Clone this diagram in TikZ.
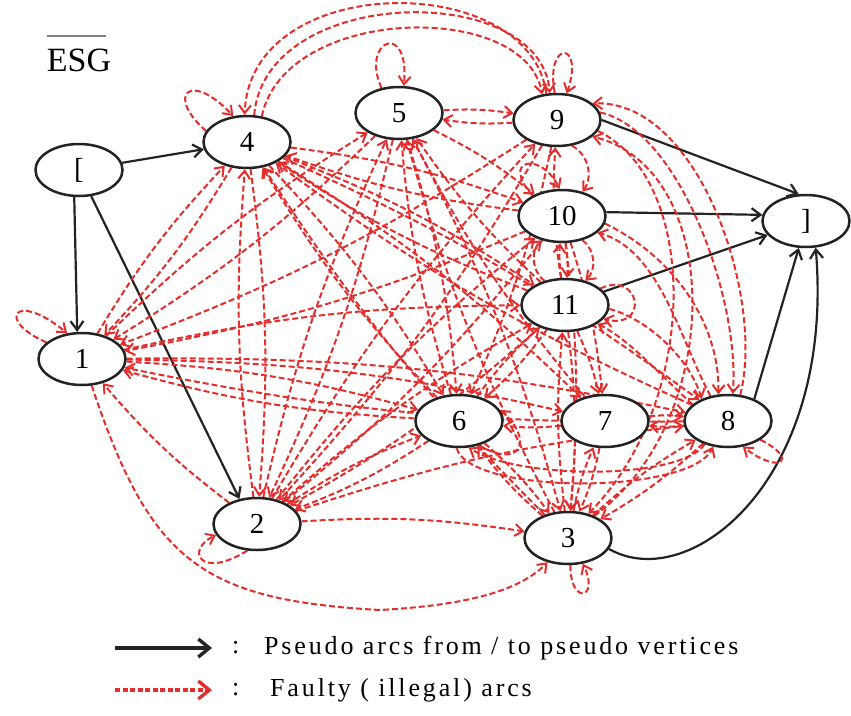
\documentclass[tikz,border=0pt]{standalone}
\usepackage{fontspec}
\setmainfont{Liberation Serif}
\usetikzlibrary{shapes.geometric,arrows.meta}
\definecolor{faultred}{RGB}{228,45,45}
\definecolor{ink}{RGB}{35,35,35}
\pgfdeclarelayer{paper}
\pgfdeclarelayer{edges}
\pgfsetlayers{paper,edges,main}
\begin{document}
\begin{tikzpicture}[x=1pt,y=-1pt,
  vertex/.style={ellipse,draw=ink,line width=2.5pt,fill=white,minimum width=87pt,minimum height=52pt,inner sep=0pt,font=\fontsize{29}{31}\selectfont},
  pseudo/.style={draw=ink,line width=2.2pt,-{Straight Barb[length=9pt,width=13pt,line width=2.2pt]}},
  fa/.style={draw=faultred,line width=2pt,dash pattern=on 6pt off 3pt,-{Straight Barb[length=8pt,width=12pt,line width=2pt]},bend left=6},
  legend/.style={anchor=west,font=\fontsize{26}{28}\selectfont\addfontfeatures{LetterSpace=11},inner sep=0pt},
]
\begin{pgfonlayer}{paper}
\fill[white] (0,0) rectangle (851,715);
\end{pgfonlayer}
\useasboundingbox (0,0) rectangle (851,715);

% title
\node[font=\fontsize{34}{36}\selectfont,inner sep=0pt] (esg) at (79,60) {ESG};
\draw[gray,line width=1.2pt] (47,36) -- (106,36);

% vertices
\node[vertex] (nL) at (79,170) {[};
\node[vertex] (n4) at (247,142) {4};
\node[vertex] (n5) at (399,113) {5};
\node[vertex] (n9) at (557,120) {9};
\node[vertex] (n10) at (562,216) {10};
\node[vertex] (nR) at (806,221) {]};
\node[vertex] (n11) at (565,305) {11};
\node[vertex] (n1) at (82,359) {1};
\node[vertex] (n6) at (459,421) {6};
\node[vertex] (n7) at (605,421) {7};
\node[vertex] (n8) at (728,421) {8};
\node[vertex] (n2) at (257,524) {2};
\node[vertex] (n3) at (568,538) {3};

\begin{pgfonlayer}{edges}
% pseudo arcs
\draw[pseudo] (nL) -- (n4);
\draw[pseudo] (nL.260) -- (n1.100);
\draw[pseudo] (nL.295) -- (n2.125);
\draw[pseudo] (n9.east) -- (nR.105);
\draw[pseudo] (n10.5) -- (nR.172);
\draw[pseudo] (n11) -- (nR.200);
\draw[pseudo] (n8.40) -- (nR.255);
\draw[pseudo] (n3.-15) .. controls (690,595) and (835,480) .. (nR.290);

% faulty arcs over the top
\draw[fa] (n4.75) .. controls (265,-15) and (540,-20) .. (n9.105);
\draw[fa] (n4.60) .. controls (285,5) and (525,0) .. (n9.120);
\draw[fa] (n9.112) .. controls (530,-30) and (250,-30) .. (n4.95);

% self loops
\draw[fa] (n4.165) .. controls (165,95) and (190,70) .. (n4.118);
\draw[fa] (n5.125) .. controls (360,40) and (410,20) .. (n5.80);
\draw[fa] (n9.95) .. controls (545,40) and (585,40) .. (n9.70);
\draw[fa] (n1.155) .. controls (-5,320) and (15,290) .. (n1.120);
\draw[fa] (n2.250) .. controls (200,580) and (185,550) .. (n2.195);
\draw[fa] (n3.275) .. controls (570,605) and (600,600) .. (n3.300);
\draw[fa] (n8.330) .. controls (800,460) and (780,475) .. (n8.300);
\draw[fa] (n6.310) .. controls (520,470) and (535,440) .. (n6.15);
\draw[fa] (n10.145) .. controls (500,160) and (540,150) .. (n10.95);
\draw[fa] (n11.25) .. controls (640,270) and (650,330) .. (n11.-20);

% long arcs below
\draw[fa] (n1.290) .. controls (150,560) and (200,600) .. (380,610) .. controls (470,605) and (520,590) .. (n3.230);
\draw[fa] (n8.225) .. controls (680,480) and (520,480) .. (n6.290);
\draw[fa] (n6.265) .. controls (470,495) and (690,495) .. (n8.240);

% arcs along the right side
\draw[fa] (n9.10) .. controls (680,130) and (740,300) .. (n8.80);
\draw[fa] (n8.65) .. controls (765,300) and (700,100) .. (n9.25);
\draw[fa] (n9.-15) .. controls (700,180) and (700,400) .. (n3.50);
\draw[fa] (n3.40) .. controls (725,420) and (725,170) .. (n9.-25);
\draw[fa] (n10.-10) .. controls (680,260) and (720,330) .. (n8.110);
\draw[fa] (n8.125) .. controls (680,340) and (660,250) .. (n10.-25);
\draw[fa] (n11.-5) .. controls (650,320) and (690,360) .. (n8.140);
\draw[fa] (n8.155) .. controls (660,375) and (630,340) .. (n11.-30);
\draw[fa] (n9.-60) to[bend left=50] (n10.50);
\draw[fa] (n10.-50) to[bend left=50] (n11.50);
\draw[fa] (n11.130) to[bend left=50] (n10.230);

% faulty arcs between vertices
\foreach \a/\b in {n4/n1, n5/n1, n9/n1, n10/n1, n1/n11, n1/n6, n8/n1, n1/n7, n1/n8, n2/n1, n6/n1, n1/n5, n1/n4,
  n4/n2, n5/n2, n2/n5, n2/n9, n2/n10, n2/n11, n2/n6, n2/n8, n2/n3, n6/n2, n11/n2, n10/n2, n2/n4, n9/n2,
  n4/n6, n4/n7, n4/n8, n4/n10, n4/n11, n10/n4, n11/n4, n3/n4, n6/n4, n8/n4,
  n9/n5, n5/n9, n5/n10, n5/n6, n5/n3, n6/n5, n3/n5, n11/n5, n7/n5,
  n9/n6, n11/n9, n10/n11, n11/n10, n10/n3, n10/n7, n11/n3, n3/n11, n11/n7, n6/n11, n11/n6,
  n7/n6, n6/n3, n3/n6, n7/n3, n3/n7, n8/n7, n7/n8, n8/n3, n3/n8}
  \draw[fa] (\a) to (\b);
\end{pgfonlayer}

% legend
\coordinate (la) at (115,648);
\coordinate (lb) at (212,648);
\coordinate (lc) at (115,690);
\coordinate (ld) at (212,690);
\draw[draw=ink,line width=3.4pt,-{Straight Barb[length=11pt,width=18pt,line width=3.4pt]}] (la) -- (lb);
\draw[draw=faultred,line width=3.6pt,dash pattern=on 5pt off 2.5pt,-{Straight Barb[length=11pt,width=18pt,line width=3.4pt]}] (lc) -- (ld);
\node[legend] (c1) at (232,648) {:};
\node[legend] (t1) at (264,648) {Pseudo arcs from / to pseudo vertices};
\node[legend] (c2) at (232,690) {:};
\node[legend] (t2) at (270,690) {Faulty ( illegal) arcs};
\end{tikzpicture}
\end{document}
